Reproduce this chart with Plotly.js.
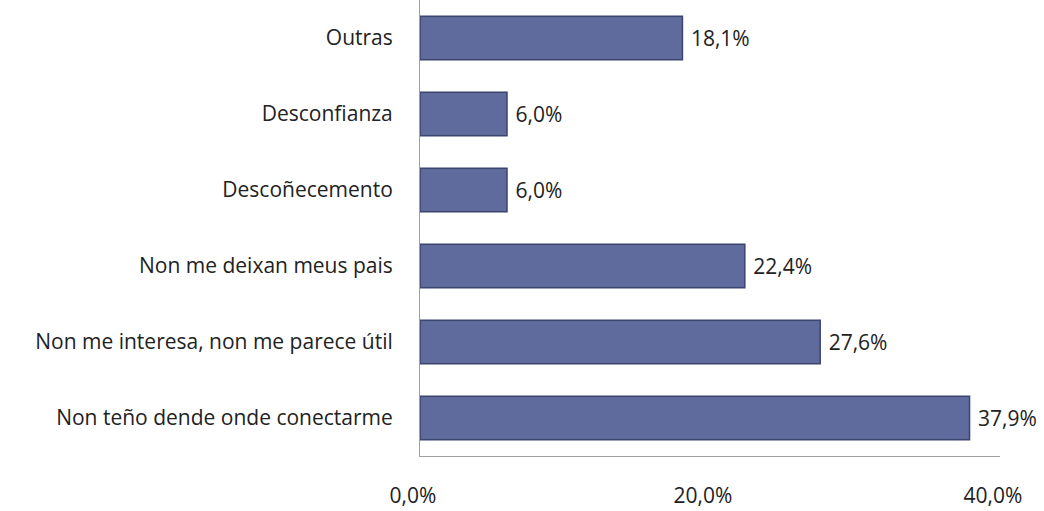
<!DOCTYPE html>
<html><head><meta charset="utf-8">
<script src="https://cdn.plot.ly/plotly-3.0.1.min.js"></script>
<style>html,body{margin:0;padding:0;background:#fff}#c{width:1044px;height:511px}</style>
</head><body><div id="c"></div>
<script>
var categories = ["Non teño dende onde conectarme","Non me interesa, non me parece útil","Non me deixan meus pais","Descoñecemento","Desconfianza","Outras"];
var values = [37.9, 27.6, 22.4, 6.0, 6.0, 18.1];
var valueLabels = ["37,9%","27,6%","22,4%","6,0%","6,0%","18,1%"];
var tickValues = [0, 20, 40];
var tickLabels = ["0,0%","20,0%","40,0%"];

var font = "Open Sans, Noto Sans, sans-serif";
Plotly.newPlot("c", [{
  type: "bar", orientation: "h",
  x: values, y: categories,
  text: valueLabels, texttemplate: "\u00a0%{text}", textposition: "outside", cliponaxis: false,
  textfont: {family: font, size: 21, color: "#222"},
  marker: {color: "#5f6b9d", line: {color: "#3c4470", width: 1.5}},
  hoverinfo: "none"
}], {
  width: 1044, height: 511,
  margin: {l: 420, r: 44, t: 0, b: 55},
  paper_bgcolor: "#fff", plot_bgcolor: "#fff",
  bargap: 0.43, showlegend: false,
  xaxis: {range: [0, 40], tickvals: tickValues, ticktext: tickLabels, showgrid: false, zeroline: false,
    showline: true, linecolor: "#a0a0a0", linewidth: 1, ticks: "", ticklabelstandoff: 21, ticklabelshift: -7,
    tickfont: {family: font, size: 21, color: "#222"}},
  yaxis: {showgrid: false, zeroline: false, showline: true, linecolor: "#a0a0a0", linewidth: 1,
    ticks: "", ticklabelstandoff: 22, tickfont: {family: font, size: 21, color: "#222"}}
}, {staticPlot: true});
</script></body></html>
